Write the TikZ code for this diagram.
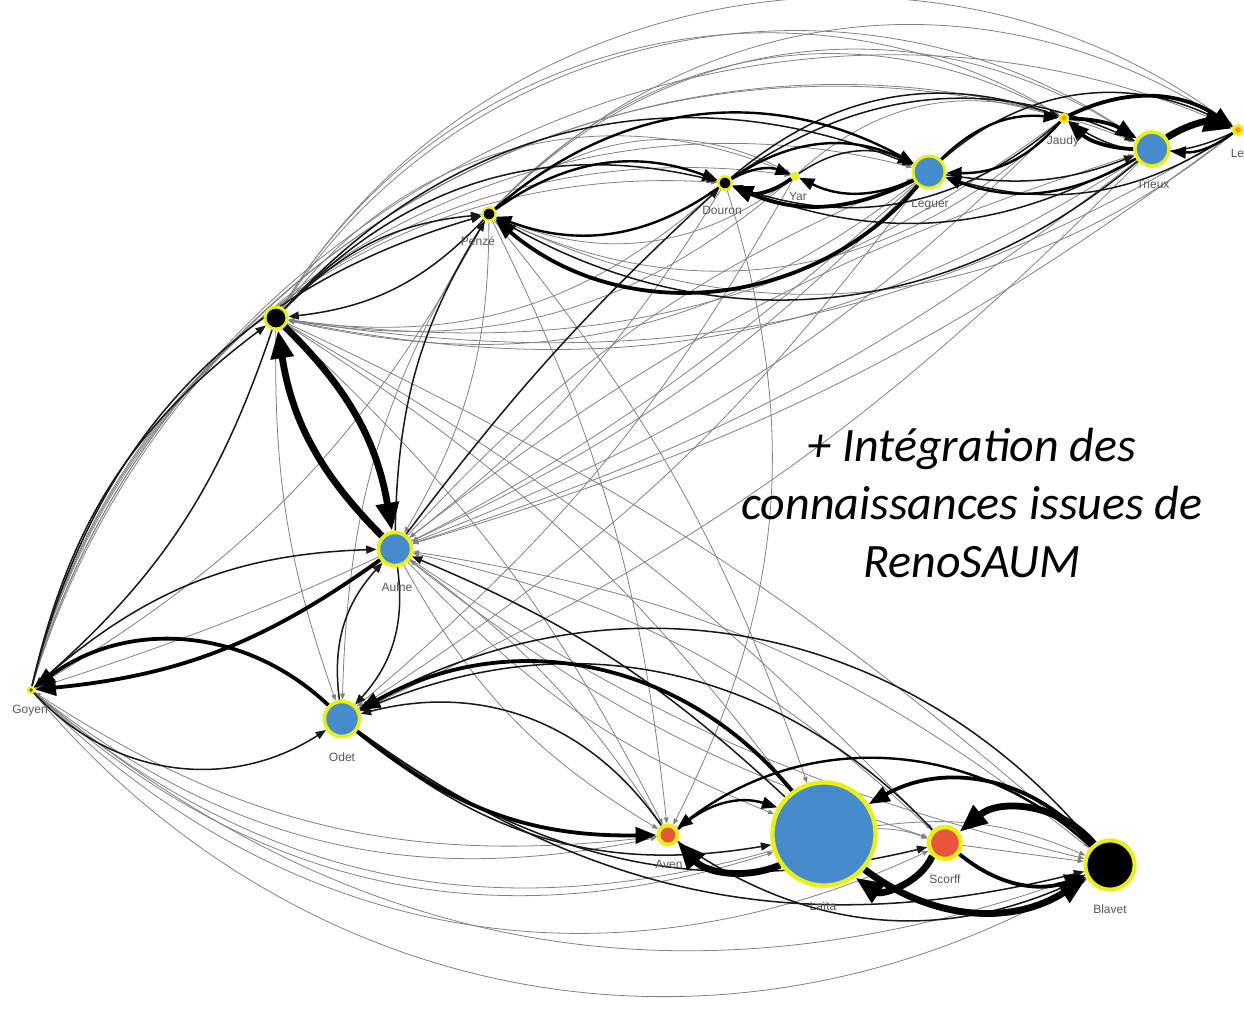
\documentclass[tikz,border=0pt]{standalone}
\usepackage{fontspec}
\setmainfont{Carlito}
\setsansfont{Liberation Sans}
\usetikzlibrary{arrows.meta,backgrounds}
\definecolor{flussblau}{RGB}{70,140,205}
\definecolor{flussrot}{RGB}{232,85,60}
\definecolor{ringgelb}{RGB}{232,240,20}
\definecolor{labelgrau}{RGB}{85,85,95}
\begin{document}
\begin{tikzpicture}[x=0.25pt, y=0.25pt, line join=round,
    fluss/.style={circle, draw=ringgelb, line width=0.75pt, inner sep=0pt},
    flussname/.style={font=\sffamily\fontsize{3}{3}\selectfont, text=labelgrau, inner sep=0.25pt},
    e0/.style={line width=0.2pt, black!50, -{Triangle[length=1.5pt,width=1.2pt]}},
    e1/.style={line width=0.38pt, black!90, -{Triangle[length=2.6pt,width=2pt]}},
    e2/.style={line width=0.6pt, black, -{Triangle[length=3.8pt,width=3pt]}},
    e3/.style={line width=0.95pt, black, -{Triangle[length=5.2pt,width=4pt]}},
    e4/.style={line width=1.7pt, black, -{Triangle[length=7pt,width=5.5pt]}}]
  \useasboundingbox (0,0) rectangle (1244,-1014);
  % Flüsse im Norden
  \node[fluss, fill=black, minimum size=5.5pt] (elorn) at (276,-318) {};
  \node[fluss, fill=black, minimum size=3.3pt, line width=0.6pt] (penze) at (489,-214) {};
  \node[fluss, fill=black, minimum size=3.3pt, line width=0.6pt] (douron) at (725,-183) {};
  \node[fluss, fill=ringgelb, minimum size=2pt, line width=0.25pt] (yar) at (795,-176) {};
  \node[fluss, fill=flussblau, minimum size=8pt] (leguer) at (929,-172) {};
  \node[fluss, fill=orange!80!yellow, minimum size=2pt, line width=0.6pt] (jaudy) at (1064,-118) {};
  \node[fluss, fill=flussblau, minimum size=8.5pt, line width=0.9pt] (trieux) at (1152,-149) {};
  \node[fluss, fill=orange!80!yellow, minimum size=2.3pt, line width=0.75pt] (leff) at (1238,-130) {};
  % Flüsse im Süden
  \node[fluss, fill=flussblau, minimum size=8.3pt, line width=0.9pt] (aulne) at (395,-549) {};
  \node[fluss, fill=black!70, minimum size=1.5pt, line width=0.6pt] (goyen) at (31,-690) {};
  \node[fluss, fill=flussblau, minimum size=8.8pt, line width=0.9pt] (odet) at (342,-719) {};
  \node[fluss, fill=flussrot, minimum size=4.8pt, line width=1pt] (aven) at (668,-835) {};
  \node[fluss, fill=flussblau, minimum size=25.8pt, line width=1.1pt] (laita) at (824,-834) {};
  \node[fluss, fill=flussrot, minimum size=8pt, line width=1.1pt] (scorff) at (945,-843) {};
  \node[fluss, fill=black, minimum size=12.3pt, line width=1pt] (blavet) at (1110,-865) {};
  % Beschriftungen
  \node[flussname] (penze-l) at (478,-241) {Penzé};
  \node[flussname] (douron-l) at (722,-210) {Douron};
  \node[flussname] (yar-l) at (798,-196) {Yar};
  \node[flussname] (leguer-l) at (930,-205) {Leguer};
  \node[flussname] (jaudy-l) at (1063,-141) {Jaudy};
  \node[flussname] (trieux-l) at (1153,-184) {Trieux};
  \node[flussname, anchor=west] (leff-l) at (1229,-153) {Leff};
  \node[flussname] (aulne-l) at (397,-587) {Aulne};
  \node[flussname] (goyen-l) at (30,-711) {Goyen};
  \node[flussname] (odet-l) at (342,-757) {Odet};
  \node[flussname] (aven-l) at (669,-864) {Aven};
  \node[flussname] (laita-l) at (823,-906) {Laïta};
  \node[flussname] (scorff-l) at (945,-879) {Scorff};
  \node[flussname] (blavet-l) at (1110,-909) {Blavet};
  \node[font=\itshape\fontsize{12}{14.5}\selectfont, align=center] (reno) at (972,-503)
    {+ Intégration des\\connaissances issues de\\RenoSAUM};
  \begin{scope}[on background layer]
    % lange Bögen von Goyen und Elorn
    \draw[e0] (goyen) edge[bend left=40] (douron) edge[bend left=42] (yar) edge[bend left=45] (leguer)
      edge[bend left=44] (jaudy) edge[bend left=48] (trieux) edge[bend left=49] (leff)
      edge[bend right=25] (aven) edge[bend right=30] (laita) edge[bend right=35] (scorff)
      edge[bend right=40] (blavet);
    \draw[e0] (penze) edge[bend left=15] (goyen) (leguer) edge[bend left=12] (goyen)
      (laita) edge[bend left=28] (goyen) (blavet) edge[bend left=30] (goyen) (aven) edge[bend left=20] (goyen);
    \draw[e0] (elorn) edge[bend left=38] (yar) edge[bend left=45] (jaudy) edge[bend left=46] (trieux)
      edge[bend left=48] (leff) edge[bend left=10] (aven) edge[bend left=10] (laita)
      edge[bend left=8] (scorff) edge[bend left=8] (blavet) edge[bend right=10] (odet);
    \draw[e0] (douron) edge[bend left=25] (elorn) (yar) edge[bend left=25] (elorn)
      (leguer) edge[bend left=25] (elorn) (jaudy) edge[bend left=22] (elorn)
      (trieux) edge[bend left=22] (elorn) (leff) edge[bend left=20] (elorn);
    % Penzé und die Nordküste
    \draw[e0] (penze) edge[bend left=38] (jaudy) edge[bend left=40] (trieux) edge[bend left=40] (leff)
      edge[bend left=35] (yar) edge[bend right=15] (odet) edge[bend left=10] (aven) edge[bend left=10] (laita)
      edge[bend left=15] (aulne);
    \draw[e0] (jaudy) edge[bend left=35] (penze) (leff) edge[bend left=32] (penze) (yar) edge[bend left=30] (penze)
      (douron) edge[bend left=22] (aven) (yar) edge[bend left=30] (jaudy);
    % Nordküste nach Aulne und Odet
    \draw[e0] (leguer) edge[bend left=10] (aulne) (trieux) edge[bend left=10] (aulne) (jaudy) edge[bend left=12] (aulne)
      (leff) edge[bend left=10] (aulne) (douron) edge[bend left=10] (aulne) (aulne) edge[bend left=12] (leguer)
      (aulne) edge[bend left=10] (trieux) (yar) edge[bend left=10] (odet) (leguer) edge[bend left=10] (odet)
      (trieux) edge[bend left=10] (odet);
    % Aulne und der Süden
    \draw[e0] (aulne) edge[bend right=15] (aven) edge[bend right=12] (laita) edge[bend right=10] (scorff)
      edge[bend right=10] (blavet) (scorff) edge[bend right=15] (aulne) (blavet) edge[bend right=15] (aulne)
      (aven) edge[bend right=10] (aulne) (laita) edge[bend left=10] (scorff) edge[bend left=15] (blavet)
      (scorff) edge (blavet);
    \draw[e1] (elorn) edge[bend left=30] (douron) edge[bend left=35] (leguer) edge[bend left=20] (penze)
      edge[bend left=15] (goyen) (penze) edge[bend left=20] (elorn) (goyen) edge[bend left=20] (elorn)
      (goyen) edge[bend left=30] (penze) edge[bend left=20] (aulne) edge[bend right=40] (odet)
      (aulne) edge[bend left=25] (odet) (odet) edge[bend left=25] (aulne) (aulne) edge[bend left=15] (penze)
      (aulne) edge[bend left=5] (douron) (laita) edge[bend right=10] (aulne);
    \draw[e1] (douron) edge[bend left=30] (jaudy) (jaudy) edge[bend left=30] (douron)
      (douron) edge[bend left=30] (trieux) (trieux) edge[bend left=25] (douron)
      (leguer) edge[bend left=35] (leff) (leff) edge[bend left=25] (leguer) (yar) edge[bend left=30] (leguer)
      (leguer) edge[bend right=15] (trieux) (leff) edge[bend left=30] (jaudy) (trieux) edge[bend left=35] (penze);
    \draw[e1] (aven) edge[bend right=35] (odet) (scorff) edge[bend right=35] (odet) (blavet) edge[bend right=40] (odet)
      (odet) edge[bend right=25] (laita) edge[bend right=25] (scorff) edge[bend right=25] (blavet)
      (aven) edge[bend right=30] (blavet);
    % dicke Verbindungen
    \draw[e2] (penze) edge[bend left=28] (douron) edge[bend left=35] (leguer) (douron) edge[bend left=25] (yar)
      (douron) edge[bend left=30] (leguer) (leguer) edge[bend left=25] (jaudy) (jaudy) edge[bend left=25] (leguer)
      (leff) edge[bend left=20] (trieux) (trieux) edge[bend left=25] (leguer) (leguer) edge[bend left=25] (yar)
      (douron) edge[bend left=28] (penze) (aven) edge[bend left=30] (laita) (blavet) edge[bend right=40] (aven);
    \draw[e3] (leguer) edge[bend left=45] (penze) (yar) edge[bend left=30] (douron) (leguer) edge[bend left=25] (douron)
      (jaudy) edge[bend left=15] (trieux) (jaudy) edge[bend left=30] (leff) (trieux) edge[bend left=20] (jaudy)
      (aulne) edge[bend left=15] (goyen) (odet) edge[bend right=40] (goyen) (odet) edge[bend right=20] (aven)
      (laita) edge[bend right=40] (odet) (blavet) edge[bend right=40] (laita) (scorff) edge[bend right=30] (blavet);
    \draw[e4] (trieux) edge[bend left=25] (leff) (elorn) edge[bend left=18] (aulne) (aulne) edge[bend left=18] (elorn)
      (laita) edge[bend left=35] (aven) (scorff) edge[bend left=50] (laita) (laita) edge[bend right=35] (blavet)
      (blavet) edge[bend right=45] (scorff);
  \end{scope}
\end{tikzpicture}
\end{document}
